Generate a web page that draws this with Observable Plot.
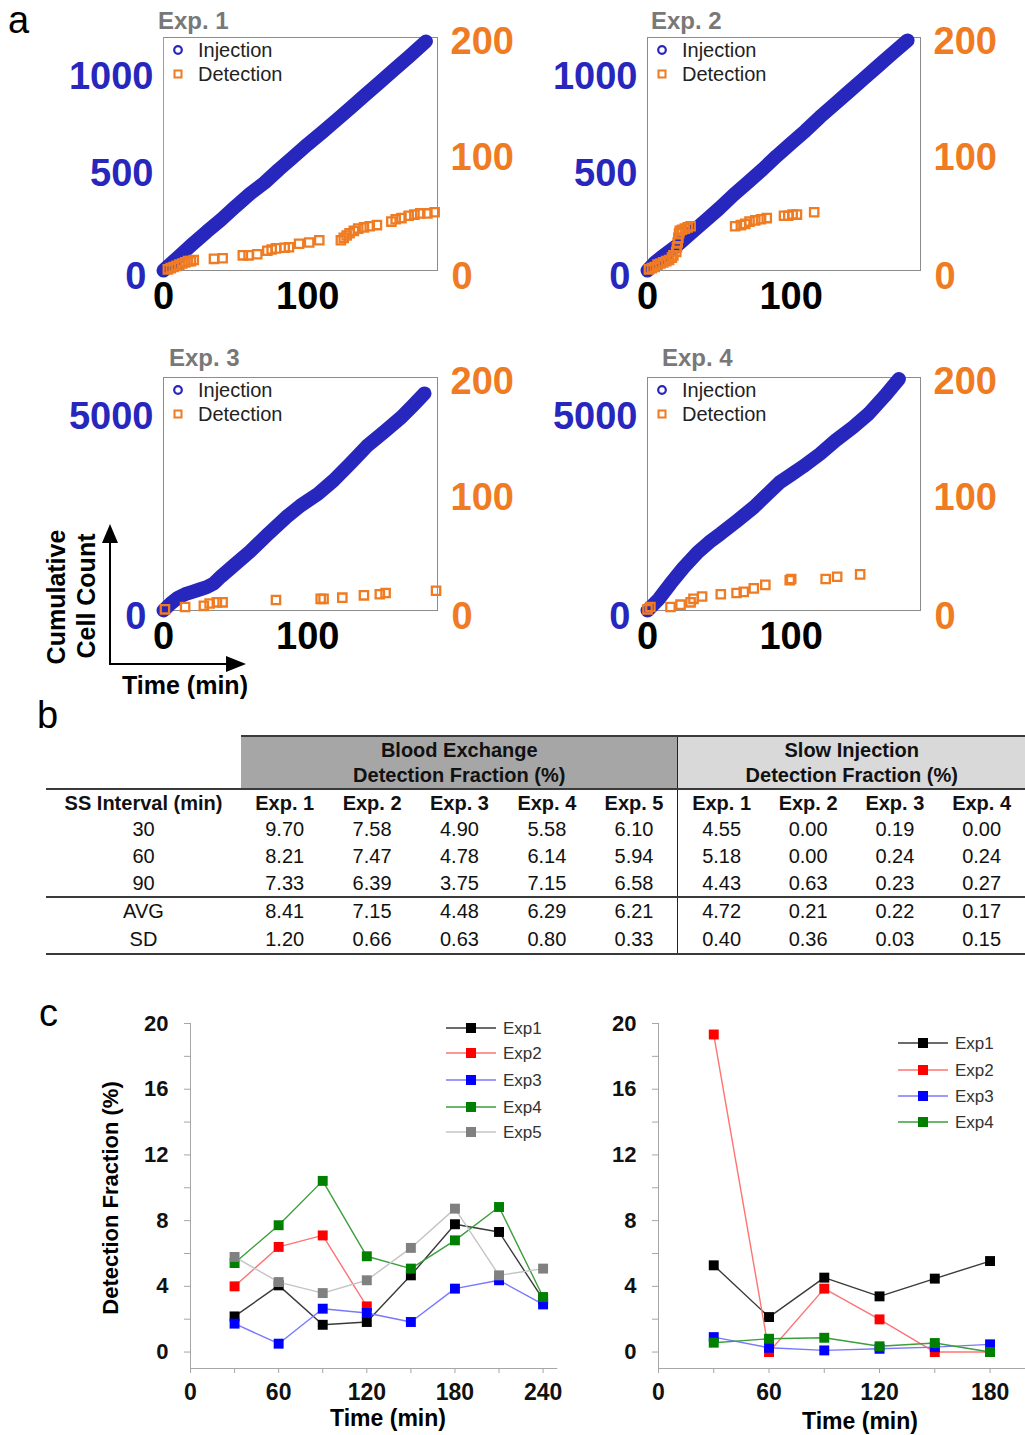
<!DOCTYPE html>
<html><head><meta charset="utf-8">
<script src="https://cdn.jsdelivr.net/npm/d3@7"></script>
<script src="https://cdn.jsdelivr.net/npm/@observablehq/plot@0.6"></script>
<style>
body{margin:0;background:#fff;}
#root{position:relative;width:1025px;height:1435px;overflow:hidden;font-family:"Liberation Sans",Arial,sans-serif;background:#fff;}
.abs{position:absolute;white-space:nowrap;line-height:1;}
table.tb{position:absolute;left:46px;top:735px;border-collapse:collapse;table-layout:fixed;font-size:20px;color:#111;}
table.tb td{padding:0;text-align:center;vertical-align:middle;white-space:nowrap;}
</style></head><body><div id="root"></div><script>
// ---------------- Panel a data ----------------
const panelTitles = ["Exp. 1", "Exp. 2", "Exp. 3", "Exp. 4"];
const legendLabels = ["Injection", "Detection"];
const timeTicksA = [0, 100];
const leftTicksSmall = [500, 1000];
const leftTicksLarge = [5000];
const rightTicks = [100, 200];
const zeroTick = [0];

const inj1T = [0,10,20,30,40,50,60,70,80,90,100,110,120,130,140,150,160,170,182];
const inj1N = [0,68,135,200,262,330,395,452,520,585,650,712,775,840,905,970,1035,1100,1180];
const det1T = [3,5,7,9,11,13,15,17,19,21,35,41,55,59,65,72,75,78,84,87,94,101,108,123,125,127,129,132,135,139,143,148,158,161,165,170,174,178,183,188];
const det1V = [1,2,3,4,5,6,7,8,8,9,10,10.5,13,13,14,17,18,19,19.5,20,23,24,26,26,28,30,32,34,36,37,38,39,42,44,45,47,48,49,49,50];

const inj2T = [0,5,10,20,30,40,50,60,70,80,90,100,110,120,130,140,150,160,170,181];
const inj2N = [0,40,70,125,190,255,320,390,455,520,590,655,720,790,855,920,985,1050,1115,1185];
const det2T = [1,3,5,7,9,11,13,15,17,18,20,20.5,21,21.5,22,22.5,24,26,28,30,61,65,68,71,75,79,83,95,98,101,104,116];
const det2V = [1,2,3,5,6,7,8,9,11,13,16,20,24,28,32,34,35,36,37,38,38,39,40,42,43,44,45,47,47,48,48,50];

const inj3T = [0,5,10,15,20,25,30,35,40,50,60,72,85,95,107,118,130,141,153,165,173,181];
const inj3N = [0,180,330,420,480,540,600,700,880,1200,1520,1950,2400,2700,3000,3350,3800,4230,4600,4980,5280,5590];
const det3T = [1,15,28,32,37,41,78,109,111,124,139,150,154,189];
const det3V = [1,3,4,6,7,7,9,10,10,11,13,14,15,17];

const inj4T = [0,8,16,25,35,43,51,62,74,83,92,100,108,120,131,143,154,165,175];
const inj4N = [0,300,690,1100,1500,1760,1980,2300,2660,2980,3300,3500,3700,4030,4380,4720,5070,5520,5960];
const det4T = [0,2,16,23,30,32,38,51,62,67,74,82,99,100,124,132,148];
const det4V = [1,3,3,5,7,10,12,14,15,16,19,22,26,27,27,29,31];

// ---------------- Panel b data ----------------
const tableRowLabels = ["30", "60", "90", "AVG", "SD"];
const beHeaders = ["Exp. 1", "Exp. 2", "Exp. 3", "Exp. 4", "Exp. 5"];
const siHeaders = ["Exp. 1", "Exp. 2", "Exp. 3", "Exp. 4"];
const beTable = [[9.70,7.58,4.90,5.58,6.10],[8.21,7.47,4.78,6.14,5.94],[7.33,6.39,3.75,7.15,6.58],[8.41,7.15,4.48,6.29,6.21],[1.20,0.66,0.63,0.80,0.33]];
const siTable = [[4.55,0.00,0.19,0.00],[5.18,0.00,0.24,0.24],[4.43,0.63,0.23,0.27],[4.72,0.21,0.22,0.17],[0.40,0.36,0.03,0.15]];

// ---------------- Panel c data ----------------
const beTimes = [30,60,90,120,150,180,210,240];
const beExp1 = [2.17,4.06,1.66,1.83,4.67,7.78,7.31,3.2];
const beExp2 = [4.0,6.4,7.1,2.78];
const beExp3 = [1.73,0.51,2.64,2.38,1.83,3.86,4.37,2.9];
const beExp4 = [5.42,7.72,10.42,5.83,5.08,6.8,8.83,3.35];
const beExp5 = [5.79,4.26,3.59,4.37,6.34,8.73,4.67,5.08];
const siTimes = [30,60,90,120,150,180];
const siExp1 = [5.28,2.13,4.53,3.39,4.47,5.54];
const siExp2 = [19.33,0,3.86,1.99,0,0];
const siExp3 = [0.91,0.26,0.1,0.2,0.3,0.47];
const siExp4 = [0.57,0.81,0.87,0.35,0.55,0];
const yTicksC = [0,4,8,12,16,20];
const yMinorC = [2,6,10,14,18];
const seriesNames = ["Exp1","Exp2","Exp3","Exp4","Exp5"];

// ---------------- helpers ----------------
const FONT = '"Liberation Sans", Arial, sans-serif';
const BLUE = "#2727bd", ORANGE = "#ef7b22";
const plain = d => String(d);
const root = document.getElementById("root");
function place(node, x, y){ node.style.position="absolute"; node.style.left=x+"px"; node.style.top=y+"px"; root.append(node); return node; }
function txt(s, o){
  const d=document.createElement("div"); d.className="abs"; d.textContent=s;
  Object.assign(d.style,{fontSize:o.size+"px",fontWeight:o.bold?"bold":"normal",color:o.color||"#000",left:o.x+"px",top:o.y+"px"});
  let tr = o.anchor==="middle" ? "translate(-50%,-50%)" : "translate(0,-50%)";
  if (o.rotate) tr += ` rotate(${o.rotate}deg)`;
  d.style.transform = tr; root.append(d); return d;
}

// panel letters
txt("a",{x:8,y:20,size:38});
txt("b",{x:37,y:715,size:38});
txt("c",{x:39,y:1013,size:38});

// ---------------- Panel a ----------------
function panelA(cfg){
  const {L,T,W,H,yMax,yTicks,injT,injN,detT,detV,title,titleX,titleY,blueEdge} = cfg;
  const ml=130, mr=110, mt=12, mb=60;
  const base = {width:W+ml+mr, height:H+mt+mb, marginLeft:ml, marginRight:mr, marginTop:mt, marginBottom:mb,
    style:{background:"transparent", overflow:"visible", maxWidth:"none", fontFamily:FONT}};
  const inj = injT.map((t,i)=>({t, n:injN[i]}));
  const det = detT.map((t,i)=>({t, v:detV[i]}));
  const big = {tickSize:0, fontSize:38, fontWeight:"bold", label:null, tickFormat:plain};
  const p1 = Plot.plot({...base,
    x:{domain:[0,190]}, y:{domain:[0,yMax]},
    marks:[
      Plot.frame({stroke:"#8c8c8c"}),
      ...(blueEdge ? [Plot.ruleX([0],{stroke:"#62aee0"})] : []),
      Plot.axisY(yTicks,{...big, tickPadding:10, fill:BLUE}),
      Plot.axisY(zeroTick,{...big, tickPadding:17, dy:6, fill:BLUE}),
      Plot.axisX(timeTicksA,{...big, tickPadding:12, fill:"#000"}),
      Plot.line(inj,{x:"t", y:"n", stroke:BLUE, strokeWidth:14, strokeLinecap:"round", strokeLinejoin:"round"})
    ]});
  const p2 = Plot.plot({...base,
    x:{domain:[0,190], axis:null}, y:{domain:[0,200]},
    marks:[
      Plot.axisY(rightTicks,{...big, anchor:"right", tickPadding:13, dy:4, fill:ORANGE}),
      Plot.axisY(zeroTick,{...big, anchor:"right", tickPadding:14, dy:6, fill:ORANGE}),
      Plot.dot(det,{x:"t", y:"v", symbol:"square", r:4.7, stroke:ORANGE, strokeWidth:2.3, fill:"none"})
    ]});
  place(p1, L-ml, T-mt); place(p2, L-ml, T-mt);
  txt(title,{x:titleX, y:titleY, size:24, bold:true, color:"#787878"});
  const lg = d3.create("svg").attr("width",20).attr("height",50);
  lg.append("circle").attr("cx",10).attr("cy",12).attr("r",3.8).attr("fill","none").attr("stroke",BLUE).attr("stroke-width",2.2);
  lg.append("rect").attr("x",6.5).attr("y",32.5).attr("width",7).attr("height",7).attr("fill","none").attr("stroke",ORANGE).attr("stroke-width",2);
  place(lg.node(), L+5, T+1);
  txt(legendLabels[0],{x:L+35, y:T+13, size:20, color:"#222"});
  txt(legendLabels[1],{x:L+35, y:T+37, size:20, color:"#222"});
}
panelA({L:163,T:37,W:274,H:233,yMax:1200,yTicks:leftTicksSmall,injT:inj1T,injN:inj1N,detT:det1T,detV:det1V,title:panelTitles[0],titleX:158,titleY:21,blueEdge:true});
panelA({L:647,T:37,W:273,H:233,yMax:1200,yTicks:leftTicksSmall,injT:inj2T,injN:inj2N,detT:det2T,detV:det2V,title:panelTitles[1],titleX:651,titleY:21});
panelA({L:163,T:377,W:274,H:233,yMax:6000,yTicks:leftTicksLarge,injT:inj3T,injN:inj3N,detT:det3T,detV:det3V,title:panelTitles[2],titleX:169,titleY:358});
panelA({L:647,T:377,W:273,H:233,yMax:6000,yTicks:leftTicksLarge,injT:inj4T,injN:inj4N,detT:det4T,detV:det4V,title:panelTitles[3],titleX:662,titleY:358});

// axis-arrow key
const ar = d3.create("svg").attr("width",160).attr("height",160);
ar.append("line").attr("x1",10).attr("y1",148).attr("x2",10).attr("y2",20).attr("stroke","#000").attr("stroke-width",2);
ar.append("line").attr("x1",9).attr("y1",148).attr("x2",128).attr("y2",148).attr("stroke","#000").attr("stroke-width",2);
ar.append("path").attr("d","M10,8 L2,27 L18,27 Z").attr("fill","#000");
ar.append("path").attr("d","M146,148 L126,140 L126,156 Z").attr("fill","#000");
place(ar.node(), 100, 516);
txt("Cumulative",{x:56,y:597,size:25,bold:true,anchor:"middle",rotate:-90});
txt("Cell Count",{x:86,y:596,size:25,bold:true,anchor:"middle",rotate:-90});
txt("Time (min)",{x:185,y:685,size:25,bold:true,anchor:"middle"});

// ---------------- Panel b (table) ----------------
{
  const colW = [195, ...beHeaders.map(()=>87.4), ...siHeaders.map(()=>86.75)];
  const tb = document.createElement("table"); tb.className="tb";
  tb.style.width = colW.reduce((a,b)=>a+b,0)+"px";
  const cg = document.createElement("colgroup");
  colW.forEach(w=>{const c=document.createElement("col"); c.style.width=w+"px"; cg.append(c);});
  tb.append(cg);
  const DARK = "2px solid #3a3a3a", VL = "1.5px solid #222";
  let tr = document.createElement("tr"); tr.style.height="53px";
  let td = document.createElement("td"); td.style.borderBottom=DARK; tr.append(td);
  td = document.createElement("td"); td.colSpan=beHeaders.length;
  td.innerHTML = "Blood Exchange<br>Detection Fraction (%)";
  Object.assign(td.style,{background:"#a6a6a6",fontWeight:"bold",lineHeight:"25px",borderTop:DARK,borderBottom:DARK});
  tr.append(td);
  td = document.createElement("td"); td.colSpan=siHeaders.length;
  td.innerHTML = "Slow Injection<br>Detection Fraction (%)";
  Object.assign(td.style,{background:"#d9d9d9",fontWeight:"bold",lineHeight:"25px",borderTop:DARK,borderBottom:DARK,borderLeft:VL});
  tr.append(td); tb.append(tr);
  tr = document.createElement("tr"); tr.style.height="27px";
  ["SS Interval (min)", ...beHeaders, ...siHeaders].forEach((h,i)=>{
    const c=document.createElement("td"); c.textContent=h; c.style.fontWeight="bold";
    if (i===beHeaders.length+1) c.style.borderLeft=VL;
    tr.append(c);
  });
  tb.append(tr);
  tableRowLabels.forEach((lab,r)=>{
    const row=document.createElement("tr"); row.style.height = r>=3 ? "28.5px" : "27px";
    [lab, ...beTable[r].map(v=>v.toFixed(2)), ...siTable[r].map(v=>v.toFixed(2))].forEach((v,i)=>{
      const c=document.createElement("td"); c.textContent=v;
      if (i===beHeaders.length+1) c.style.borderLeft=VL;
      if (r===2 || r===4) c.style.borderBottom=DARK;
      row.append(c);
    });
    tb.append(row);
  });
  root.append(tb);
}

// ---------------- Panel c ----------------
function panelC(cfg){
  const {left, top, W, xMax, xMajor, xMinor, times, series} = cfg;
  const ml=100, mr=20, mt=12, mb=70, H=345;
  const AX = "#a6a6a6";
  const marks = [
    Plot.ruleX([0],{y1:-1, y2:20, stroke:AX}),
    Plot.ruleY([-1],{x1:0, x2:xMax, stroke:AX}),
    Plot.axisY(yTicksC,{tickSize:6, tickPadding:16, stroke:AX, fill:"#111", fontSize:22, fontWeight:"bold", label:null, tickFormat:plain}),
    Plot.axisY(yMinorC,{tickSize:6, tickFormat:()=>"", stroke:AX, label:null}),
    Plot.axisX(xMajor,{tickSize:5, tickPadding:10, stroke:AX, fill:"#111", fontSize:23, fontWeight:"bold", label:null, tickFormat:plain}),
    Plot.axisX(xMinor,{tickSize:5, tickFormat:()=>"", stroke:AX, label:null})
  ];
  for (const s of series){
    const d = s.values.map((v,i)=>({t:times[i], v}));
    marks.push(Plot.line(d,{x:"t", y:"v", stroke:s.line, strokeWidth:1.4}));
    marks.push(Plot.dot(d,{x:"t", y:"v", symbol:"square", r:5.6, fill:s.color, stroke:null}));
  }
  const p = Plot.plot({width:W+ml+mr, height:H+mt+mb, marginLeft:ml, marginRight:mr, marginTop:mt, marginBottom:mb,
    x:{domain:[0,xMax]}, y:{domain:[-1,20]},
    style:{background:"transparent", overflow:"visible", maxWidth:"none", fontFamily:FONT},
    marks});
  place(p, left-ml, top-mt);
}
function legendC(series, x, ys){
  series.forEach((s,i)=>{
    const g = d3.create("svg").attr("width",50).attr("height",14);
    g.append("line").attr("x1",0).attr("x2",50).attr("y1",7).attr("y2",7).attr("stroke",s.line).attr("stroke-width",1.4);
    g.append("rect").attr("x",20).attr("y",2).attr("width",10).attr("height",10).attr("fill",s.color);
    place(g.node(), x, ys[i]-7);
    txt(s.name,{x:x+57, y:ys[i], size:17, color:"#333"});
  });
}
const cStyles = [
  {color:"#000000", line:"#3a3a3a"},
  {color:"#ff0000", line:"#ff7373"},
  {color:"#0000ff", line:"#7878ff"},
  {color:"#008000", line:"#3c9e3c"},
  {color:"#808080", line:"#c4c4c4"}
];
const beSeries = [beExp1,beExp2,beExp3,beExp4,beExp5].map((v,i)=>({name:seriesNames[i], values:v, ...cStyles[i]}));
const siSeries = [siExp1,siExp2,siExp3,siExp4].map((v,i)=>({name:seriesNames[i], values:v, ...cStyles[i]}));
panelC({left:190, top:1023.3, W:367.3, xMax:250, xMajor:[0,60,120,180,240], xMinor:[30,90,150,210], times:beTimes, series:beSeries});
panelC({left:657.5, top:1023.3, W:368.4, xMax:200, xMajor:[0,60,120,180], xMinor:[30,90,150], times:siTimes, series:siSeries});
legendC(beSeries, 446, [1028,1053,1080,1107,1132]);
legendC(siSeries, 898, [1043,1070,1096,1122]);
txt("Detection Fraction (%)",{x:111,y:1198,size:22,bold:true,anchor:"middle",rotate:-90});
txt("Time (min)",{x:388,y:1418,size:23,bold:true,anchor:"middle"});
txt("Time (min)",{x:860,y:1421,size:23,bold:true,anchor:"middle"});
</script></body></html>
